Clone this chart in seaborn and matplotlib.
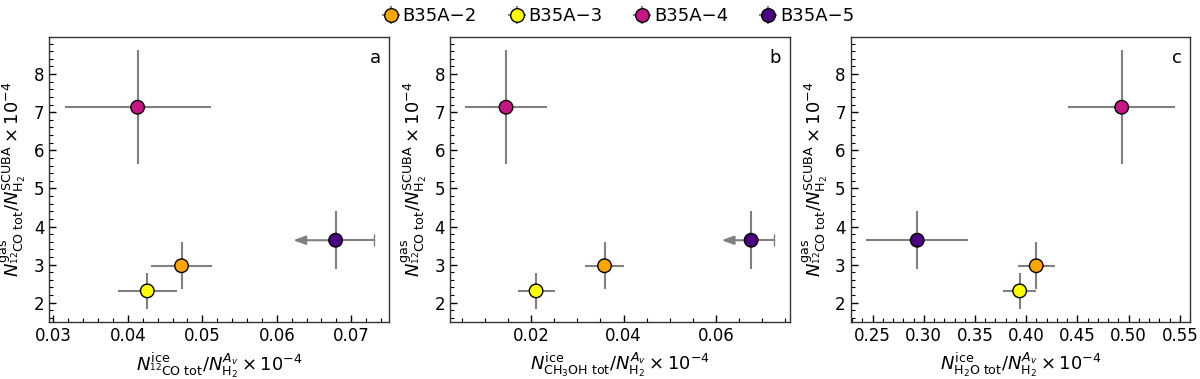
import numpy as np
import pandas as pd
import matplotlib
matplotlib.use("Agg")
import matplotlib.pyplot as plt
from matplotlib.lines import Line2D
from matplotlib.legend_handler import HandlerTuple
from matplotlib.ticker import MultipleLocator, AutoMinorLocator
import seaborn as sns

# sources and colours
sources = ["B35A\u22122", "B35A\u22123", "B35A\u22124", "B35A\u22125"]
colors = ["#ffa500", "#ffff00", "#c71585", "#4b0082"]

# gas-phase 12CO / H2 (SCUBA), x 1e-4
gas = [2.97, 2.31, 7.13, 3.64]
gas_err = [0.62, 0.48, 1.50, 0.76]

# ice 12CO / H2 (Av)
co_ice = [0.0472, 0.0426, 0.0413, 0.0679]
co_err = [0.0041, 0.0040, 0.0098, 0.0051]
co_lim_len = [0.0, 0.0, 0.0, 0.0057]

# ice CH3OH / H2 (Av)
ch3oh_ice = [0.0359, 0.0211, 0.0146, 0.0676]
ch3oh_err = [0.0042, 0.0040, 0.0088, 0.0050]
ch3oh_lim_len = [0.0, 0.0, 0.0, 0.0064]

# ice H2O / H2 (Av)
h2o_ice = [0.4098, 0.3936, 0.4932, 0.2936]
h2o_err = [0.018, 0.016, 0.052, 0.050]
h2o_lim_len = [0.0, 0.0, 0.0, 0.0]

upper_lim_co = [False, False, False, True]
upper_lim_ch3oh = [False, False, False, True]
upper_lim_h2o = [False, False, False, False]

panel_letters = ["a", "b", "c"]
xlabels = [
    r"$N^{\rm ice}_{^{12}\rm CO\ tot}/N^{A_v}_{\rm H_2}\times10^{-4}$",
    r"$N^{\rm ice}_{\rm CH_3OH\ tot}/N^{A_v}_{\rm H_2}\times10^{-4}$",
    r"$N^{\rm ice}_{\rm H_2O\ tot}/N^{A_v}_{\rm H_2}\times10^{-4}$",
]
ylabel = r"$N^{\rm gas}_{^{12}\rm CO\ tot}/N^{\rm SCUBA}_{\rm H_2}\times10^{-4}$"
xmajor = [0.01, 0.02, 0.05]

sns.set_style("ticks")
plt.rcParams["font.family"] = ["DejaVu Sans"]
plt.rcParams["font.size"] = 12
for key in ["text.color", "axes.labelcolor", "xtick.color", "ytick.color"]:
    plt.rcParams[key] = "black"

fig, axes = plt.subplots(1, 3, figsize=(12, 3.79), dpi=100)
fig.subplots_adjust(left=0.041, right=0.992, bottom=0.150, top=0.902, wspace=0.179)

panels = [
    (co_ice, co_err, upper_lim_co, co_lim_len),
    (ch3oh_ice, ch3oh_err, upper_lim_ch3oh, ch3oh_lim_len),
    (h2o_ice, h2o_err, upper_lim_h2o, h2o_lim_len),
]

eb_kw = dict(fmt="none", ecolor="grey", elinewidth=1.5, zorder=1)
legend_bars = []

for k, (ax, (xv, xe, lim, lim_len)) in enumerate(zip(axes, panels)):
    df = pd.DataFrame({"source": sources, "x": xv, "y": gas,
                       "xerr": xe, "yerr": gas_err, "lim": lim, "lim_len": lim_len})
    for i, row in df.iterrows():
        if row["lim"]:
            # vertical bar
            ax.errorbar(row["x"], row["y"], yerr=row["yerr"], capsize=0, **eb_kw)
            # right part with cap
            ax.errorbar(row["x"], row["y"], xerr=[[0], [row["xerr"]]], capsize=4, **eb_kw)
            # upper limit arrow to the left
            ax.annotate("", xy=(row["x"] - row["lim_len"], row["y"]), xytext=(row["x"], row["y"]),
                        arrowprops=dict(arrowstyle="-|>,head_length=0.6,head_width=0.22",
                                        color="grey", lw=1.5, shrinkA=0, shrinkB=0),
                        zorder=1)
        else:
            c = ax.errorbar(row["x"], row["y"], xerr=row["xerr"], yerr=row["yerr"],
                            capsize=0, **eb_kw)
            if k == 2:
                legend_bars.append(c)

    sns.scatterplot(data=df, x="x", y="y", hue="source", palette=colors, s=95,
                    edgecolor="black", linewidth=1, zorder=3, legend=False, ax=ax)

    ax.set_xlabel(xlabels[k], fontsize=13)
    ax.set_ylabel(ylabel, fontsize=13)
    ax.xaxis.set_major_locator(MultipleLocator(xmajor[k]))
    ax.xaxis.set_minor_locator(AutoMinorLocator())
    ax.yaxis.set_major_locator(MultipleLocator(1))
    ax.yaxis.set_minor_locator(AutoMinorLocator())
    ax.tick_params(which="both", direction="in", top=False, right=False, labelsize=12)
    ax.tick_params(which="major", length=5, width=1)
    ax.tick_params(which="minor", length=3, width=0.8)
    for sp in ax.spines.values():
        sp.set_visible(True)
        sp.set_linewidth(1)
        sp.set_color("#333333")
    ax.text(0.975, 0.96, panel_letters[k], transform=ax.transAxes,
            ha="right", va="top", fontsize=13)

marker_handles = [Line2D([], [], ls="none", marker="o", markersize=9.8,
                         markerfacecolor=col, markeredgecolor="black", markeredgewidth=1)
                  for col in colors]
handles = [(b, m) for b, m in zip(legend_bars, marker_handles)]
fig.legend(handles, sources, loc="center", bbox_to_anchor=(0.515, 0.958), ncol=4,
           frameon=False, fontsize=13, handlelength=1.0, handletextpad=0.15,
           columnspacing=1.7, handler_map={tuple: HandlerTuple(ndivide=1, pad=0)})

fig.savefig("out.png", dpi=100)
